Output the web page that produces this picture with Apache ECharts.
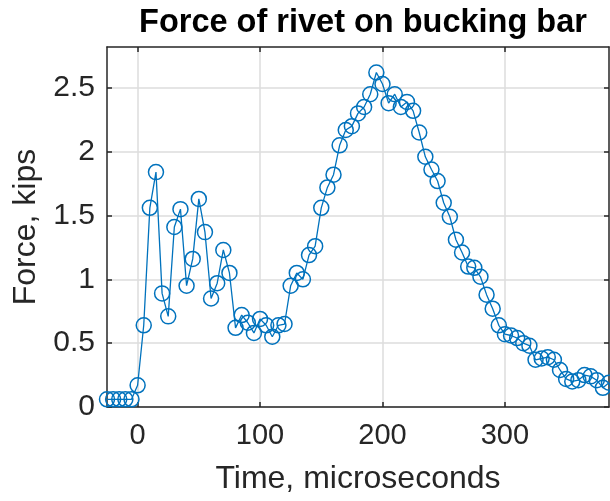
<!DOCTYPE html>
<html>
<head>
<meta charset="utf-8">
<script src="https://cdn.jsdelivr.net/npm/echarts@6/dist/echarts.min.js"></script>
<style>
  html, body { margin: 0; padding: 0; background: #fff; }
  #chart { width: 610px; height: 501px; }
</style>
</head>
<body>
<div id="chart"></div>
<script>
// Sample times (microseconds)
const timeUs = [
  -25, -20, -15, -10, -5, 0, 5, 10, 15, 20, 25, 30, 35, 40, 45, 50, 55, 60, 65, 70,
  75, 80, 85, 90, 95, 100, 105, 110, 115, 120, 125, 130, 135, 140, 145, 150, 155, 160, 165, 170,
  175, 180, 185, 190, 195, 200, 205, 210, 215, 220, 225, 230, 235, 240, 245, 250, 255, 260, 265, 270,
  275, 280, 285, 290, 295, 300, 305, 310, 315, 320, 325, 330, 335, 340, 345, 350, 355, 360, 365, 370,
  375, 380, 385
];

// Measured force (kips)
const forceKips = [
  0.06, 0.06, 0.06, 0.06, 0.06, 0.17, 0.64, 1.56, 1.84, 0.89, 0.71, 1.41, 1.55, 0.95, 1.16, 1.63, 1.37, 0.85, 0.97, 1.23,
  1.05, 0.62, 0.72, 0.66, 0.58, 0.69, 0.64, 0.55, 0.64, 0.65, 0.95, 1.05, 1.00, 1.19, 1.26, 1.56, 1.72, 1.82, 2.05, 2.17,
  2.20, 2.30, 2.35, 2.45, 2.62, 2.53, 2.38, 2.45, 2.35, 2.39, 2.32, 2.15, 1.96, 1.86, 1.77, 1.60, 1.49, 1.31, 1.21, 1.10,
  1.09, 1.02, 0.88, 0.77, 0.64, 0.57, 0.56, 0.54, 0.50, 0.48, 0.37, 0.38, 0.39, 0.37, 0.29, 0.22, 0.20, 0.21, 0.25, 0.24,
  0.21, 0.15, 0.19
];

// Tick positions
const xTicks = [0, 100, 200, 300];
const yTicks = [0, 0.5, 1, 1.5, 2, 2.5];

const FONT = '"Liberation Sans", Arial, Helvetica, sans-serif';
const INK = '#262626';
const GRID = '#dcdcdc';
const BLUE = '#0072BD';

const points = timeUs.map((t, i) => [t, forceKips[i]]);

function xAxisDef(pos, withLabels) {
  return {
    type: 'value', position: pos, min: -25, max: 385,
    axisLine: { show: true, onZero: false, lineStyle: { color: INK, width: 1.5 } },
    axisTick: { show: true, inside: true, length: 5, customValues: xTicks, lineStyle: { color: INK, width: 1.5 } },
    axisLabel: { show: withLabels, customValues: xTicks, margin: 14, color: INK, fontSize: 29, fontFamily: FONT },
    splitLine: { show: withLabels, lineStyle: { color: GRID, width: 1.5 } },
    name: withLabels ? 'Time, microseconds' : '',
    nameLocation: 'middle', nameGap: 56,
    nameTextStyle: { color: INK, fontSize: 32, fontFamily: FONT }
  };
}

function yAxisDef(pos, withLabels) {
  return {
    type: 'value', position: pos, min: 0, max: 2.82,
    axisLine: { show: true, onZero: false, lineStyle: { color: INK, width: 1.5 } },
    axisTick: { show: true, inside: true, length: 5, customValues: yTicks, lineStyle: { color: INK, width: 1.5 } },
    axisLabel: { show: withLabels, customValues: yTicks, margin: 12, color: INK, fontSize: 30, fontFamily: FONT },
    splitLine: { show: withLabels, lineStyle: { color: GRID, width: 1.5 } },
    name: withLabels ? 'Force, kips' : '',
    nameLocation: 'middle', nameGap: 56,
    nameTextStyle: { color: INK, fontSize: 32, fontFamily: FONT }
  };
}

const chart = echarts.init(document.getElementById('chart'), null, { renderer: 'canvas' });
chart.setOption({
  backgroundColor: '#ffffff',
  animation: false,
  title: {
    text: 'Force of rivet on bucking bar',
    left: 358, top: 2, textAlign: 'center',
    textStyle: { color: '#000', fontSize: 32.5, fontWeight: 'bold', fontFamily: FONT }
  },
  grid: { left: 107, right: 1, top: 47, bottom: 94, containLabel: false },
  xAxis: [xAxisDef('bottom', true), xAxisDef('top', false)],
  yAxis: [yAxisDef('left', true), yAxisDef('right', false)],
  series: [{
    type: 'line',
    data: points,
    xAxisIndex: 0, yAxisIndex: 0,
    clip: false,
    symbol: 'circle',
    symbolSize: 15,
    lineStyle: { color: BLUE, width: 1.3 },
    itemStyle: { color: 'rgba(0,0,0,0)', borderColor: BLUE, borderWidth: 1.5 }
  }]
});
</script>
</body>
</html>
